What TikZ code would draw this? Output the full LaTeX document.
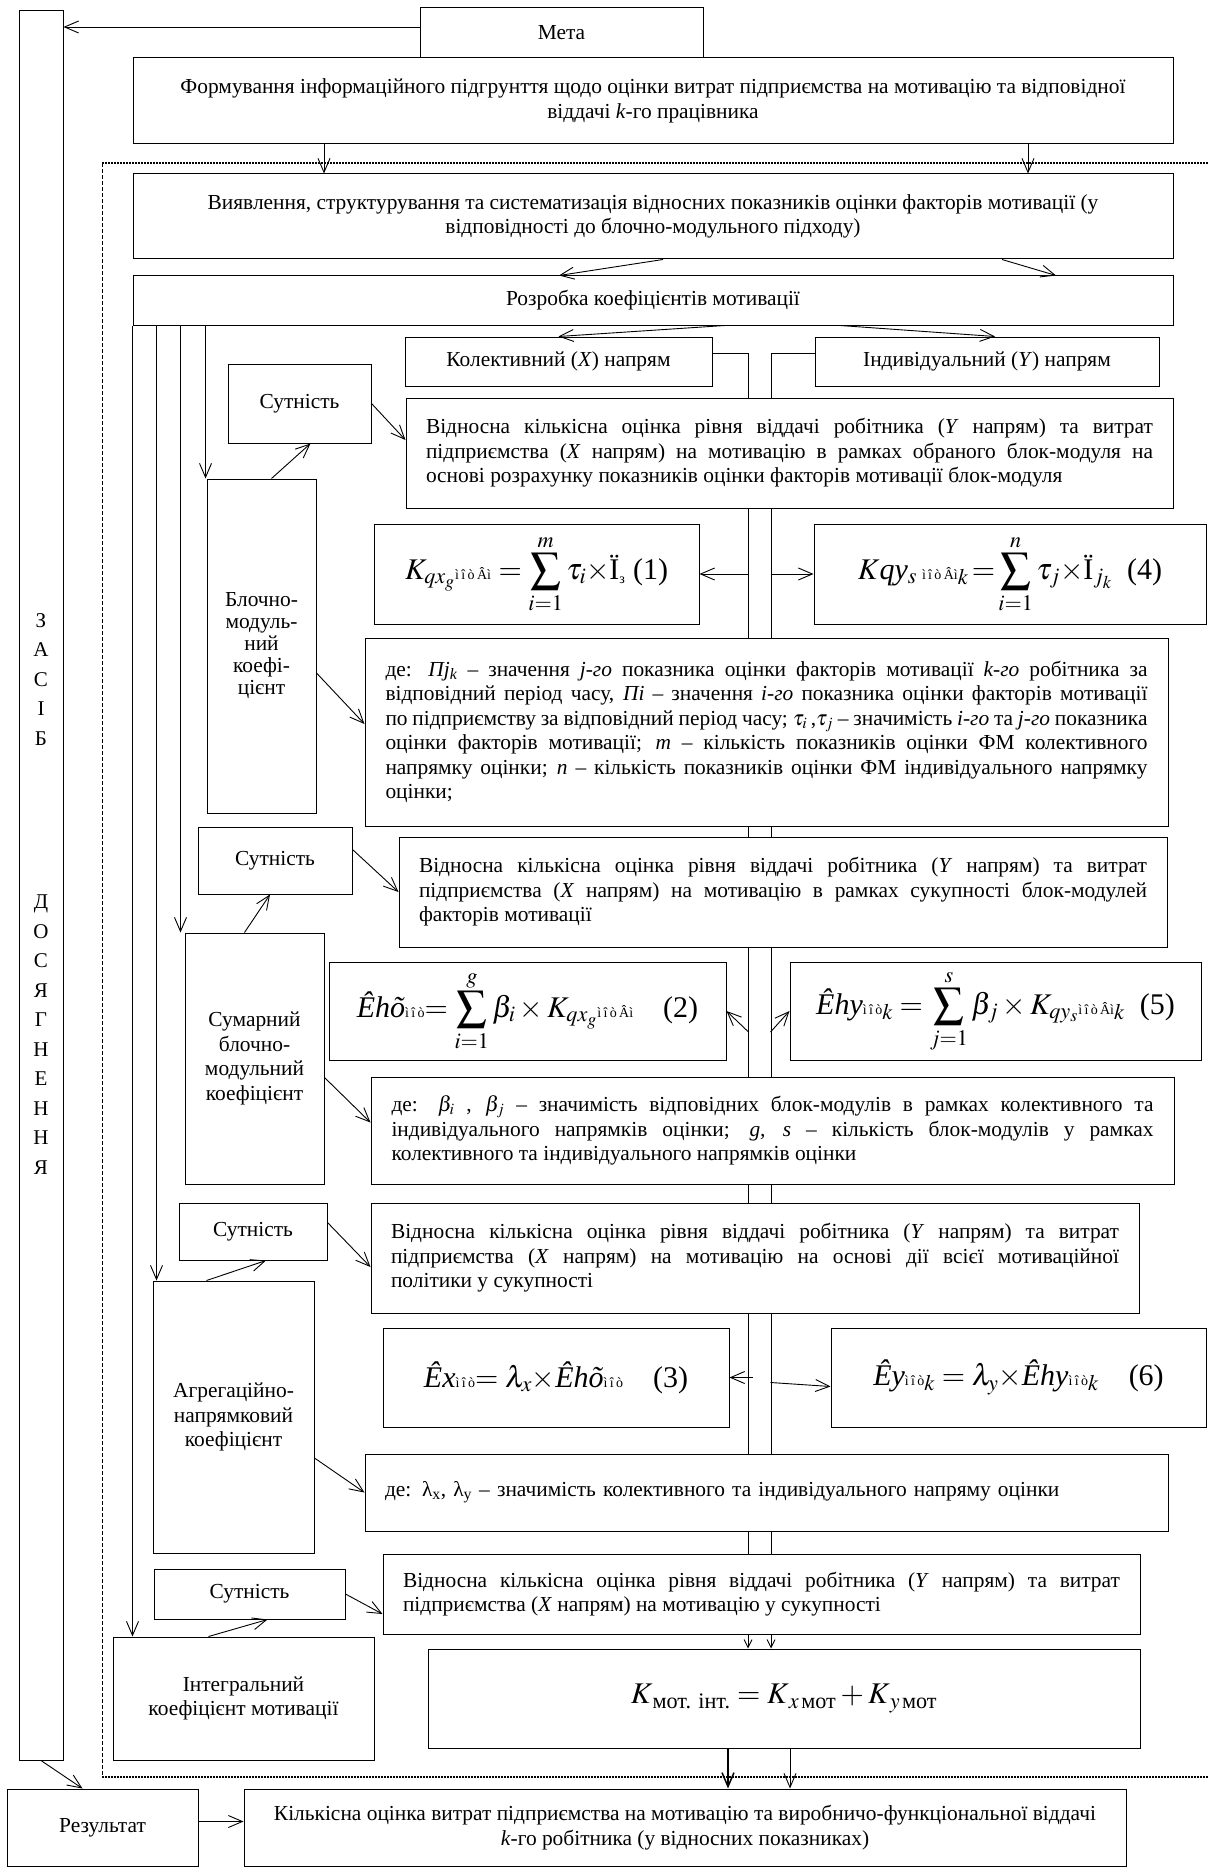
\documentclass[tikz,border=0pt]{standalone}
\usepackage{amsmath}
\usepackage{mathptmx}
\usepackage{fontspec}
\setmainfont{Liberation Serif}
\usetikzlibrary{arrows.meta,backgrounds}
\tikzset{blk/.style={draw,line width=1pt,fill=white,inner sep=0pt,align=center,
          font=\fontsize{21.4}{24.5}\selectfont},
	 jblk/.style={blk,align=justify},
	 fblk/.style={blk,font=\fontsize{30}{34}\selectfont},
	 arr/.style={-{Straight Barb[length=14pt,width=12pt]},line width=0.9pt},
	 arrs/.style={-{Straight Barb[length=8pt,width=8pt]},line width=0.9pt},
	 frm/.style={line width=1.3pt,dash pattern=on 2pt off 1pt}
	 }
\newcommand{\gl}[1]{{\fontsize{14}{14}\selectfont #1}}
\hyphenpenalty=10000

\begin{document}
\begin{tikzpicture}[x=1pt,y=-1pt] % motivation scheme
        \useasboundingbox (0,0) rectangle (1209,1867);
        \node[blk,minimum width=44pt,minimum height=1749pt] (zas) at (41,885.5) {};
        \node[font=\fontsize{21}{29.5}\selectfont,align=center,inner sep=0pt] (zast) at (41,894)
             {З\\А\\С\\І\\Б\\[134pt]Д\\О\\С\\Я\\Г\\Н\\Е\\Н\\Н\\Я};
        \node[blk,minimum width=283pt,minimum height=50pt] (meta) at (561.5,33) {Мета};
        \node[blk,minimum width=1040pt,minimum height=86pt] (form) at (653,101)
             {Формування інформаційного підгрунття щодо оцінки витрат підприємства на мотивацію та відповідної\\віддачі \textit{k}-го працівника};
        \node[blk,minimum width=1040pt,minimum height=85pt] (vyav) at (653,216.5)
             {Виявлення, структурування та систематизація відносних показників оцінки факторів мотивації (у\\відповідності до блочно-модульного підходу)};
        \node[blk,minimum width=1040pt,minimum height=49pt] (rozr) at (653,300.5) {Розробка коефіцієнтів мотивації};
        \node[blk,minimum width=307pt,minimum height=49pt] (kol) at (558.5,361.5) {Колективний (\textit{X}) напрям};
        \node[blk,minimum width=344pt,minimum height=49pt] (ind) at (987,361.5) {Індивідуальний (\textit{Y}) напрям};

        % block-module level
        \node[blk,minimum width=143pt,minimum height=79pt] (sut1) at (299.5,403.5) {Сутність};
        \node[jblk,text width=727pt,minimum width=767pt,minimum height=110pt] (vid1) at (789.5,453)
             {Відносна кількісна оцінка рівня віддачі робітника (\textit{Y} напрям) та витрат\linebreak
              підприємства (\textit{X} напрям) на мотивацію в рамках обраного блок-модуля на\linebreak
              основі розрахунку показників оцінки факторів мотивації блок-модуля};
        \node[blk,minimum width=109pt,minimum height=334pt,font=\fontsize{21.4}{22}\selectfont] (blm) at (261.5,646)
             {Блочно-\\модуль-\\ний\\коефі-\\цієнт};
        \node[fblk,minimum width=325pt,minimum height=100pt] (f1) at (536.5,574)
             {$K_{qx_g}$\gl{ì\,î\,ò\,Âì}\ $=\displaystyle\sum_{i=1}^{m}\tau_i\times$Ï${}_{\text{\gl{з}}}$\ (1)};
        \node[fblk,minimum width=392pt,minimum height=100pt] (f4) at (1010,574)
             {$K$\textit{qy}$_s$\,\gl{ì\,î\,ò\,Âì}$_k\!=\!\displaystyle\sum_{i=1}^{n}\tau_j\times$Ï$_{j_k}$\ \ (4)};
        \node[jblk,text width=762pt,minimum width=803pt,minimum height=188pt] (de1) at (766.5,732)
             {де: \textit{Пj}\textsubscript{\textit{k}} – значення \textit{j-го} показника оцінки факторів мотивації \textit{k-го} робітника за\linebreak
              відповідний період часу, \textit{Пі} – значення \textit{і-го} показника оцінки факторів мотивації\linebreak
              по підприємству за відповідний період часу; $\tau_i$\,,$\tau_j$ – значимість \textit{і-го} та \textit{j-го} показника\linebreak
              оцінки факторів мотивації; \textit{m} – кількість показників оцінки ФМ колективного\linebreak
              напрямку оцінки; \textit{n} – кількість показників оцінки ФМ індивідуального напрямку\linebreak
              оцінки;};

        % sum level
        \node[blk,minimum width=154pt,minimum height=67pt] (sut2) at (275,860.5) {Сутність};
        \node[jblk,text width=728pt,minimum width=768pt,minimum height=110pt] (vid2) at (783,892)
             {Відносна кількісна оцінка рівня віддачі робітника (\textit{Y} напрям) та витрат\linebreak
              підприємства (\textit{X} напрям) на мотивацію в рамках сукупності блок-модулей\linebreak
              факторів мотивації};
        \node[blk,minimum width=139pt,minimum height=251pt] (sum) at (254.5,1058.5)
             {Сумарний\\блочно-\\модульний\\коефіцієнт};
        \node[fblk,minimum width=397pt,minimum height=98pt] (f2) at (527.5,1011)
             {\textit{Êhõ}\gl{ì\,î\,ò}$=\displaystyle\sum_{i=1}^{g}\beta_i\times K_{qx_g}$\gl{ì\,î\,ò\,Âì}\quad (2)};
        \node[fblk,minimum width=411pt,minimum height=98pt] (f5) at (995.5,1011)
             {\textit{Êhy}\gl{ì\,î\,ò}$_k=\displaystyle\sum_{j=1}^{s}\beta_j\times K_{qy_s}$\gl{ì\,î\,ò\,Âì}$_k$\ \ (5)};
        \node[jblk,text width=762pt,minimum width=803pt,minimum height=107pt] (de2) at (772.5,1130.5)
             {де: $\beta_i$ , $\beta_j$ – значимість відповідних блок-модулів в рамках колективного та\linebreak
              індивідуального напрямків оцінки; \textit{g, s} – кількість блок-модулів у рамках\linebreak
              колективного та індивідуального напрямків оцінки};

        % aggregate level
        \node[blk,minimum width=148pt,minimum height=57pt] (sut3) at (253,1231.5) {Сутність};
        \node[jblk,text width=728pt,minimum width=768pt,minimum height=110pt] (vid3) at (755,1258)
             {Відносна кількісна оцінка рівня віддачі робітника (\textit{Y} напрям) та витрат\linebreak
              підприємства (\textit{X} напрям) на мотивацію на основі дії всієї мотиваційної\linebreak
              політики у сукупності};
        \node[blk,minimum width=161pt,minimum height=272pt] (agr) at (233.5,1417)
             {Агрегаційно-\\напрямковий\\коефіцієнт};
        \node[fblk,minimum width=346pt,minimum height=99pt] (f3) at (556,1377.5)
             {\textit{Êx}\gl{ì\,î\,ò}$=\lambda_x\times$\textit{Êhõ}\gl{ì\,î\,ò}\quad (3)};
        \node[fblk,minimum width=375pt,minimum height=99pt] (f6) at (1018.5,1377.5)
             {\textit{Êy}\gl{ì\,î\,ò}$_k=\lambda_y\times$\textit{Êhy}\gl{ì\,î\,ò}$_k$\quad (6)};
        \node[blk,align=left,text width=763pt,minimum width=803pt,minimum height=77pt] (de3) at (766.5,1492.5)
             {де: λ\textsubscript{x}, λ\textsubscript{y} – значимість колективного та індивідуального напряму оцінки};

        % integral level
        \node[blk,minimum width=191pt,minimum height=50pt] (sut4) at (249.5,1594) {Сутність};
        \node[jblk,text width=717pt,minimum width=757pt,minimum height=80pt] (vid4) at (761.5,1594)
             {Відносна кількісна оцінка рівня віддачі робітника (\textit{Y} напрям) та витрат\linebreak
              підприємства (\textit{X} напрям) на мотивацію у сукупності};
        \node[blk,minimum width=261pt,minimum height=123pt] (int) at (243.5,1698.5)
             {Інтегральний\\коефіцієнт мотивації};
        \node[fblk,minimum width=712pt,minimum height=99pt] (kint) at (784,1698.5)
             {$K_{\,\text{мот. інт.}}=K_{\,x\,\text{мот}}+K_{\,y\,\text{мот}}$};
        \node[blk,minimum width=191pt,minimum height=77pt] (rez) at (102.5,1827.5) {Результат};
        \node[blk,minimum width=882pt,minimum height=77pt] (kil) at (685,1827.5)
             {Кількісна оцінка витрат підприємства на мотивацію та виробничо-функціональної віддачі\\\textit{k}-го робітника (у відносних показниках)};

        \coordinate (cl) at (748,353);
        \coordinate (cr) at (771,353);
        \begin{pgfonlayer}{background}
        \draw[line width=1pt] ([yshift=8.5pt]kol.east) -- (cl) -- (cl |- vid4.north);
        \draw[line width=1pt] ([yshift=8.5pt]ind.west) -- (cr) -- (cr |- vid4.north);
        \end{pgfonlayer}

        % dotted frame
        \draw[frm] (102,163) -- (1209,163);
        \draw[frm] (102,1777) -- (1209,1777);
        \draw[line width=0.8pt,dash pattern=on 4pt off 2pt] (102,163) -- (102,1777);

        \draw[arr] ([yshift=6pt]meta.west) -- ([yshift=6pt]meta.west -| zas.east);
        \draw[arr] ([xshift=-329pt]form.south) -- ([xshift=-329pt]vyav.north);
        \draw[arr] ([xshift=375pt]form.south) -- ([xshift=375pt]vyav.north);
        \draw[arr] ([xshift=10pt]vyav.south) -- ([xshift=-94pt]rozr.north);
        \draw[arr] ([xshift=349pt]vyav.south) -- ([xshift=403pt]rozr.north);
        \draw[arr] ([xshift=72pt]rozr.south) -- (kol.north);
        \draw[arr] ([xshift=187pt]rozr.south) -- ([xshift=8pt]ind.north);

        \draw[arr] (rozr.south west) -- (rozr.south west |- int.north);
        \draw[arr] ([xshift=24pt]rozr.south west) -- ([xshift=24pt]rozr.south west |- agr.north);
        \draw[arr] ([xshift=48pt]rozr.south west) -- ([xshift=48pt]rozr.south west |- sum.north);
        \draw[arr] ([xshift=73pt]rozr.south west) -- ([xshift=73pt]rozr.south west |- blm.north);

        \draw[arr] ([xshift=10pt]blm.north) -- ([xshift=11pt]sut1.south);
        \draw[arr] (sut1.east) -- ([yshift=13pt]vid1.west);
        \draw[arr] ([yshift=-27pt]blm.east) -- ([yshift=8pt]de1.west);
        \draw[arr] ([xshift=-10pt]sum.north) -- ([xshift=-5pt]sut2.south);
        \draw[arr] ([yshift=11pt]sut2.east) -- (vid2.west);
        \draw[arr] ([yshift=-19pt]sum.east) -- ([yshift=8pt]de2.west);
        \draw[arr] ([xshift=-27pt]agr.north) -- ([xshift=13pt]sut3.south);
        \draw[arr] ([yshift=9pt]sut3.east) -- ([yshift=-9pt]vid3.west);
        \draw[arr] ([yshift=-41pt]agr.east) -- (de3.west);
        \draw[arr] ([xshift=-35pt]int.north) -- ([xshift=18pt]sut4.south);
        \draw[arr] (sut4.east) -- ([yshift=-20pt]vid4.west);

        \draw[arr] ([xshift=49pt]f1.east) -- (f1.east);
        \draw[arr] ([xshift=-43pt]f4.west) -- (f4.west);
        \draw[arr] ([shift={(22pt,-21pt)}]f2.east) -- (f2.east);
        \draw[arr] ([shift={(-19pt,-21pt)}]f5.west) -- (f5.west);
        \draw[arr] ([xshift=23pt]f3.east) -- (f3.east);
        \draw[arr] ([shift={(-60pt,-5pt)}]f6.west) -- ([yshift=-9pt]f6.west);

        \draw[arrs] (cl |- vid4.south) -- (cl |- kint.north);
        \draw[arrs] (cr |- vid4.south) -- (cr |- kint.north);
        \draw[arr,line width=1.5pt] ([xshift=-56pt]kint.south) -- ([xshift=-56pt]kint.south |- kil.north);
        \draw[arr] ([xshift=6pt]kint.south) -- ([xshift=6pt]kint.south |- kil.north);

        \draw[arr] (zas.south) -- ([xshift=-20pt]rez.north);
        \draw[arr] ([yshift=6pt]rez.east) -- ([yshift=6pt]rez.east -| kil.west);
     \end{tikzpicture}
\end{document}
